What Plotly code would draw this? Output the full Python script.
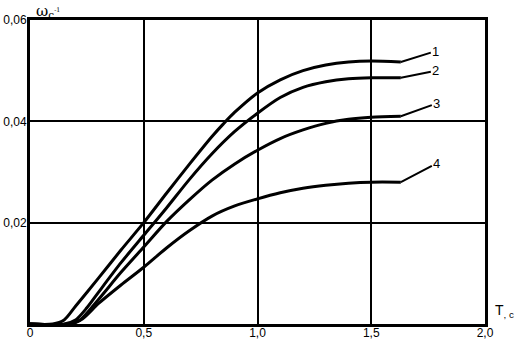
import plotly.graph_objects as go

# Data (x = T, c ; y = omega, c^-1)
x1 = [0, 0.10, 0.15, 0.20, 0.30, 0.40, 0.50, 0.60, 0.70, 0.80, 0.85, 0.90, 1.00, 1.10, 1.20, 1.30, 1.40, 1.50, 1.63]
y1 = [0, 0, 0.0008, 0.0035, 0.0090, 0.0146, 0.0200, 0.0258, 0.0315, 0.0370, 0.0395, 0.0418, 0.0456, 0.0482, 0.0500, 0.0511, 0.0517, 0.0519, 0.0517]

x2 = [0, 0.15, 0.20, 0.25, 0.30, 0.40, 0.50, 0.60, 0.70, 0.80, 0.90, 1.00, 1.10, 1.20, 1.30, 1.40, 1.50, 1.63]
y2 = [0, 0, 0.0008, 0.0032, 0.0062, 0.0121, 0.0175, 0.0229, 0.0285, 0.0336, 0.0380, 0.0416, 0.0447, 0.0467, 0.0478, 0.0484, 0.0486, 0.0486]

x3 = [0, 0.17, 0.22, 0.30, 0.40, 0.50, 0.60, 0.70, 0.80, 0.90, 1.00, 1.10, 1.20, 1.30, 1.40, 1.50, 1.63]
y3 = [0, 0, 0.0008, 0.0048, 0.0102, 0.0152, 0.0202, 0.0245, 0.0284, 0.0316, 0.0343, 0.0366, 0.0383, 0.0396, 0.0404, 0.0408, 0.0410]

x4 = [0, 0.18, 0.23, 0.30, 0.40, 0.50, 0.60, 0.70, 0.80, 0.90, 1.00, 1.10, 1.20, 1.30, 1.40, 1.50, 1.63]
y4 = [0, 0, 0.0010, 0.0040, 0.0077, 0.0112, 0.0150, 0.0184, 0.0213, 0.0233, 0.0247, 0.0259, 0.0268, 0.0274, 0.0278, 0.0280, 0.0280]

curve_labels = ["1", "2", "3", "4"]
label_offsets = [(35, -11), (35, -7), (36, -13), (36, -19)]

x_tickvals = [0, 0.5, 1.0, 1.5, 2.0]
x_ticktext = ["0", "0,5", "1,0", "1,5", "2,0"]
y_tickvals = [0.02, 0.04, 0.06]
y_ticktext = ["0,02", "0,04", "0,06"]

FONT = "Liberation Sans, Arial, sans-serif"

fig = go.Figure()
series = [(x1, y1), (x2, y2), (x3, y3), (x4, y4)]
for (xs, ys) in series:
    fig.add_trace(go.Scatter(
        x=xs, y=ys, mode="lines",
        line=dict(color="black", width=3, shape="spline", smoothing=0.8),
        cliponaxis=False, showlegend=False, hoverinfo="skip"))

for (xs, ys), lab, (ax, ay) in zip(series, curve_labels, label_offsets):
    fig.add_annotation(
        x=xs[-1], y=ys[-1], xref="x", yref="y", text=lab,
        showarrow=True, arrowhead=0, arrowwidth=2, arrowcolor="black",
        ax=ax, ay=ay, font=dict(family=FONT, size=13, color="black"))

fig.add_annotation(
    xref="paper", yref="paper", x=0.008, y=1, xanchor="left", yanchor="bottom",
    yshift=-3,
    text="ω<sub>c</sub><span style='font-size:9px'><sup>-1</sup></span>", showarrow=False,
    font=dict(family="DejaVu Serif, serif", size=15, color="black"))
fig.add_annotation(
    xref="paper", yref="paper", x=1, y=0, xanchor="left", yanchor="bottom",
    xshift=8, yshift=2,
    text="T<sub>, c</sub>", showarrow=False,
    font=dict(family=FONT, size=14, color="black"))

axis_common = dict(
    showline=True, linecolor="black", linewidth=3, mirror=True,
    showgrid=True, gridcolor="black", gridwidth=2, automargin=False,
    zeroline=False, ticks="", tickfont=dict(family=FONT, size=12, color="black"))

fig.update_xaxes(range=[0, 2.0], tickvals=x_tickvals, ticktext=x_ticktext,
                 ticklabelstandoff=-4, **axis_common)
fig.update_yaxes(range=[0, 0.06], tickvals=y_tickvals, ticktext=y_ticktext,
                 ticklabelstandoff=-2, **axis_common)

fig.update_layout(
    width=515, height=341,
    margin=dict(l=30, r=30, t=20, b=17),
    plot_bgcolor="white", paper_bgcolor="white")

fig.write_html(
    "out.html",
    config={"displayModeBar": False},
    post_script="document.body.style.margin='0';document.body.style.padding='0';")
